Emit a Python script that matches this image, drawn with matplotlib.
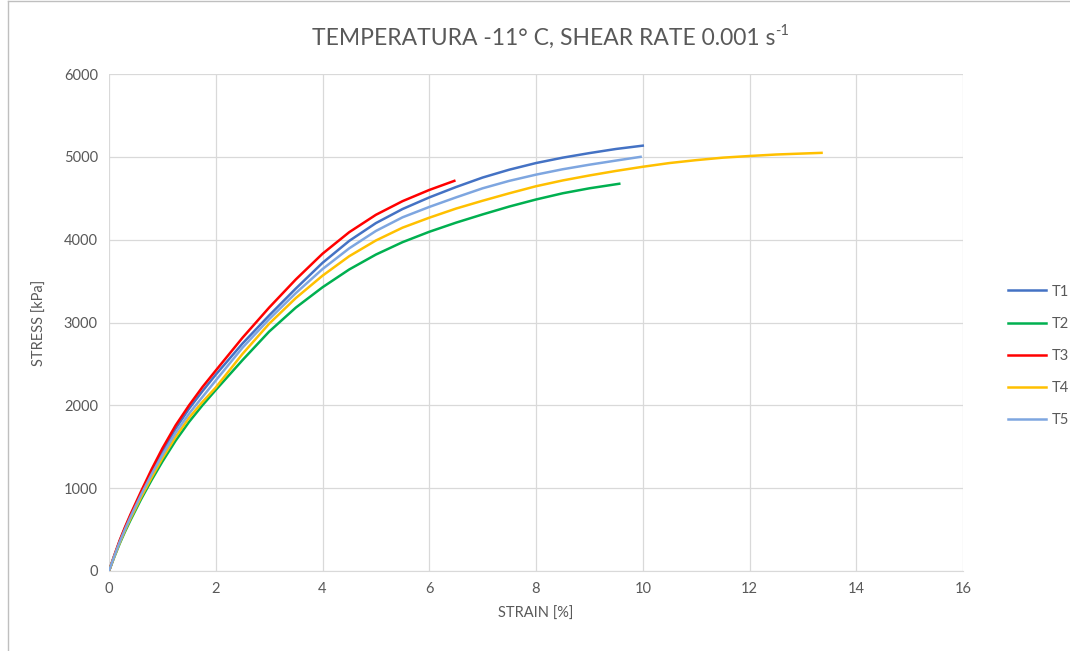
import matplotlib
matplotlib.use("Agg")
import matplotlib.pyplot as plt
from matplotlib.lines import Line2D

plt.rcParams['font.family'] = ['Lato', 'DejaVu Sans']

# data: strain [%] / stress [kPa]
t1_strain = [0, 0.1, 0.2, 0.3, 0.4, 0.6, 0.8, 1.0, 1.25, 1.5, 1.75, 2, 2.5, 3, 3.5, 4,
             4.5, 5, 5.5, 6, 6.5, 7, 7.5, 8, 8.5, 9, 9.5, 10]
t1_stress = [0, 185, 360, 520, 665, 940, 1200, 1440, 1720, 1960, 2170, 2370, 2745, 3085, 3410, 3720,
             3985, 4200, 4370, 4510, 4635, 4750, 4845, 4925, 4990, 5045, 5095, 5135]

t2_strain = [0, 0.1, 0.2, 0.3, 0.4, 0.6, 0.8, 1.0, 1.25, 1.5, 1.75, 2, 2.5, 3, 3.5, 4,
             4.5, 5, 5.5, 6, 6.5, 7, 7.5, 8, 8.5, 9, 9.56]
t2_stress = [0, 170, 330, 475, 610, 865, 1100, 1320, 1575, 1800, 2000, 2185, 2545, 2890, 3180, 3425,
             3640, 3820, 3970, 4095, 4205, 4305, 4400, 4485, 4560, 4620, 4675]

t3_strain = [0, 0.1, 0.2, 0.3, 0.4, 0.6, 0.8, 1.0, 1.25, 1.5, 1.75, 2, 2.5, 3, 3.5, 4,
             4.5, 5, 5.5, 6, 6.47]
t3_stress = [0, 190, 370, 530, 680, 960, 1230, 1480, 1760, 2000, 2220, 2420, 2815, 3180, 3520, 3830,
             4090, 4300, 4465, 4600, 4710]

t4_strain = [0, 0.1, 0.2, 0.3, 0.4, 0.6, 0.8, 1.0, 1.25, 1.5, 1.75, 2, 2.5, 3, 3.5, 4,
             4.5, 5, 5.5, 6, 6.5, 7, 7.5, 8, 8.5, 9, 9.5, 10, 10.5, 11, 11.5, 12, 12.5, 13, 13.35]
t4_stress = [0, 175, 340, 490, 630, 890, 1130, 1360, 1620, 1850, 2040, 2215, 2620, 2985, 3295, 3565,
             3800, 3990, 4145, 4265, 4375, 4470, 4560, 4645, 4715, 4775, 4830, 4880, 4925, 4960,
             4990, 5010, 5028, 5040, 5048]

t5_strain = [0, 0.1, 0.2, 0.3, 0.4, 0.6, 0.8, 1.0, 1.25, 1.5, 1.75, 2, 2.5, 3, 3.5, 4,
             4.5, 5, 5.5, 6, 6.5, 7, 7.5, 8, 8.5, 9, 9.5, 9.96]
t5_stress = [0, 180, 350, 505, 650, 920, 1170, 1400, 1670, 1900, 2100, 2300, 2695, 3040, 3355, 3645,
             3895, 4105, 4270, 4395, 4510, 4620, 4710, 4785, 4850, 4905, 4955, 5000]

series = [
    ("T1", t1_strain, t1_stress, "#4472C4"),
    ("T2", t2_strain, t2_stress, "#00B050"),
    ("T3", t3_strain, t3_stress, "#FF0000"),
    ("T4", t4_strain, t4_stress, "#FFC000"),
    ("T5", t5_strain, t5_stress, "#7EA6E0"),
]

fig = plt.figure(figsize=(10.7, 6.51), dpi=100)
ax = fig.add_axes([109 / 1070, 1 - 571 / 651, (963 - 109) / 1070, (571 - 74) / 651])

for name, x, y, c in series:
    ax.plot(x, y, color=c, lw=1.8, label=name, solid_joinstyle="round")

ax.set_xlim(0, 16)
ax.set_ylim(0, 6000)
ax.set_xticks(range(0, 17, 2))
ax.set_yticks(range(0, 6001, 1000))
ax.grid(True, color="#D9D9D9", lw=0.9)
ax.set_axisbelow(True)
for s in ["top", "right", "left"]:
    ax.spines[s].set_visible(False)
ax.spines["bottom"].set_color("#D9D9D9")
ax.tick_params(length=0, labelsize=10.5, labelcolor="#595959", pad=8)

ax.set_xlabel("STRAIN [%]", fontsize=10.5, color="#595959", labelpad=8)
ax.set_ylabel("STRESS [kPa]", fontsize=10.5, color="#595959", labelpad=12)

# title with a small "-1" superscript
title = fig.text(0.508, 1 - 38 / 651, "TEMPERATURA -11° C, SHEAR RATE 0.001 s",
                 ha="center", va="center", fontsize=16.5, color="#595959")
ax.annotate("-1", xy=(1, 0.85), xycoords=title, ha="left", va="center",
            fontsize=10.5, color="#595959")

ax.legend(loc="center left", bbox_to_anchor=(1000 / 1070 - 0.005, 1 - 356 / 651),
          bbox_transform=fig.transFigure, frameon=False, fontsize=10.5,
          labelcolor="#595959", labelspacing=1.25, handlelength=2.6, handletextpad=0.4)

# chart area border (left and top only visible)
fig.add_artist(Line2D([8 / 1070, 8 / 1070], [0, 1 - 1 / 651], transform=fig.transFigure,
                      color="#BFBFBF", lw=1))
fig.add_artist(Line2D([8 / 1070, 1], [1 - 1 / 651, 1 - 1 / 651], transform=fig.transFigure,
                      color="#BFBFBF", lw=1))

fig.savefig("out.png", dpi=100)
